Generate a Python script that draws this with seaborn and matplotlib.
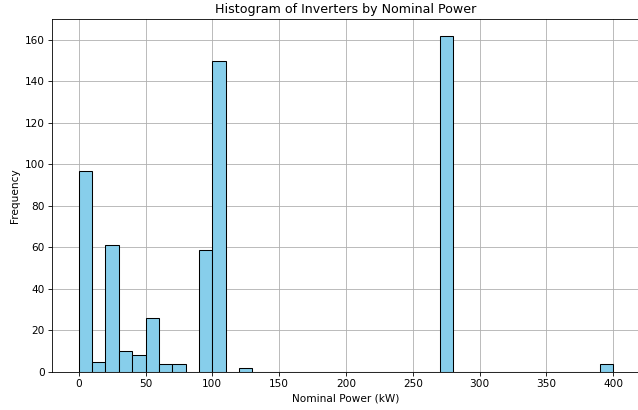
import numpy as np
import pandas as pd
import matplotlib
matplotlib.use("Agg")
import matplotlib.pyplot as plt
import seaborn as sns

# Bin centers (kW) and counts
bin_centers = [5, 15, 25, 35, 45, 55, 65, 75, 95, 105, 125, 275, 395]
counts = [97, 5, 61, 10, 8, 26, 4, 4, 59, 150, 2, 162, 4]
bin_edges = list(range(0, 410, 10))

df = pd.DataFrame({"Nominal Power (kW)": bin_centers, "count": counts})

DPI = 75.5
fig = plt.figure(figsize=(638 / DPI, 410 / DPI), dpi=DPI)
ax = fig.add_axes([52 / 638, 1 - 372 / 410, (640 - 52) / 638, (372 - 19) / 410])

sns.histplot(data=df, x="Nominal Power (kW)", weights="count", bins=bin_edges,
             color="skyblue", edgecolor="black", alpha=1, linewidth=1, ax=ax)

ax.set_title("Histogram of Inverters by Nominal Power")
ax.set_xlabel("Nominal Power (kW)")
ax.set_ylabel("Frequency")
ax.set_xlim(-20, 420)
ax.set_ylim(0, 170.1)
ax.set_yticks(range(0, 161, 20))
ax.grid(True)
ax.set_axisbelow(True)

fig.savefig("out.png", dpi=DPI)
